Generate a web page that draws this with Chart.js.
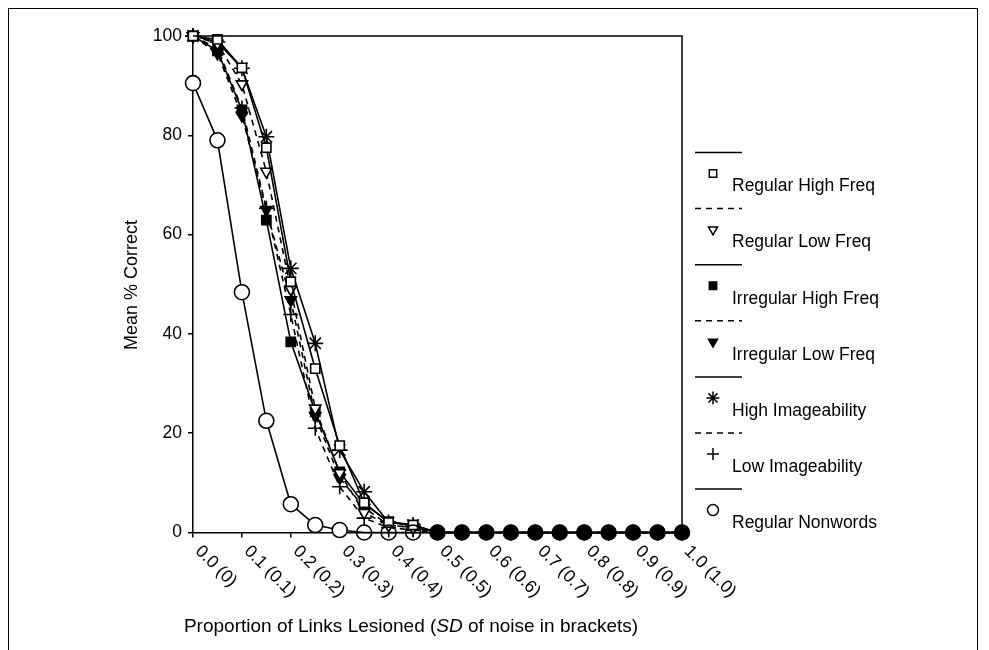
<!DOCTYPE html>
<html>
<head>
<meta charset="utf-8">
<script src="https://cdn.jsdelivr.net/npm/chart.js@4/dist/chart.umd.min.js"></script>
<style>
  body { margin: 0; background: #fff; }
  #wrap { position: relative; width: 989px; height: 650px; overflow: hidden; }
  #frame { position: absolute; left: 8px; top: 8px; width: 970px; height: 700px;
           border: 1.5px solid #000; box-sizing: border-box; }
  canvas { position: absolute; left: 0; top: 0; }
</style>
</head>
<body>
<div id="wrap">
  <div id="frame"></div>
  <canvas id="chart" width="989" height="650"></canvas>
</div>
<script>
// Data
const lesion = [0, 0.05, 0.1, 0.15, 0.2, 0.25, 0.3, 0.35, 0.4, 0.45, 0.5,
                0.55, 0.6, 0.65, 0.7, 0.75, 0.8, 0.85, 0.9, 0.95, 1.0];
const tickLabels = ['0.0 (0)', '0.1 (0.1)', '0.2 (0.2)', '0.3 (0.3)', '0.4 (0.4)', '0.5 (0.5)',
                    '0.6 (0.6)', '0.7 (0.7)', '0.8 (0.8)', '0.9 (0.9)', '1.0 (1.0)'];
const yTicks = [0, 20, 40, 60, 80, 100];

const regHighFreq = [100, 99.3, 93.6, 77.5, 50.5, 33.0, 17.5, 6.0, 2.0, 1.5, 0, 0, 0, 0, 0, 0, 0, 0, 0, 0, 0];
const regLowFreq  = [100, 98.5, 90.3, 72.7, 49.0, 25.0, 12.0, 4.0, 1.5, 1.0, 0, 0, 0, 0, 0, 0, 0, 0, 0, 0, 0];
const irrHighFreq = [100, 97.0, 85.1, 62.9, 38.4, 24.3, 12.2, 5.7, 2.2, 1.5, 0, 0, 0, 0, 0, 0, 0, 0, 0, 0, 0];
const irrLowFreq  = [100, 96.5, 84.0, 65.0, 46.8, 23.5, 11.0, 5.0, 1.5, 1.0, 0, 0, 0, 0, 0, 0, 0, 0, 0, 0, 0];
const highImage   = [100, 98.8, 93.5, 79.7, 53.2, 38.1, 16.6, 8.2, 2.0, 1.5, 0, 0, 0, 0, 0, 0, 0, 0, 0, 0, 0];
const lowImage    = [100, 97.5, 85.5, 65.3, 43.9, 21.0, 9.2, 2.9, 1.0, 0.5, 0, 0, 0, 0, 0, 0, 0, 0, 0, 0, 0];
const nonwords    = [90.5, 79.0, 48.4, 22.5, 5.7, 1.5, 0.5, 0, 0, 0, 0, 0, 0, 0, 0, 0, 0, 0, 0, 0, 0];

const seriesNames = ['Regular High Freq', 'Regular Low Freq', 'Irregular High Freq', 'Irregular Low Freq',
                     'High Imageability', 'Low Imageability', 'Regular Nonwords'];
const seriesValues = [regHighFreq, regLowFreq, irrHighFreq, irrLowFreq, highImage, lowImage, nonwords];

const FONT = "'Liberation Sans', Arial, sans-serif";
const DASH = [6, 5];

// marker look for each series
const markers = [
    { style: 'rect', fill: '#fff', radius: 6.5, rotation: 0, dashed: false },
    { style: 'triangle', fill: '#fff', radius: 6.5, rotation: 180, dashed: true },
    { style: 'rect', fill: '#000', radius: 6.5, rotation: 0, dashed: false },
    { style: 'triangle', fill: '#000', radius: 6.5, rotation: 180, dashed: true },
    { style: 'star', fill: '#000', radius: 8, rotation: 0, dashed: false },
    { style: 'cross', fill: '#000', radius: 7.5, rotation: 0, dashed: true },
    { style: 'circle', fill: '#fff', radius: 7.5, rotation: 0, dashed: false }
];

function allZero(i) {
    return seriesValues.every(v => v[i] === 0);
}

// nonword circles: white where alone, see-through where others sit inside, black where everything is at zero
function nonwordFill(ctx) {
    const i = ctx.dataIndex;
    if (allZero(i)) return '#000';
    return nonwords[i] > 0 ? '#fff' : 'rgba(255,255,255,0)';
}

const datasets = seriesValues.map((vals, k) => {
    const m = markers[k];
    return {
        label: seriesNames[k],
        data: lesion.map((x, i) => ({ x: x, y: vals[i] })),
        order: k === 6 ? -1 : k,
        borderColor: '#000',
        borderWidth: 1.6,
        borderDash: m.dashed ? DASH : [],
        pointStyle: m.style,
        pointRotation: m.rotation,
        pointRadius: m.radius,
        pointBorderWidth: 1.6,
        pointBorderColor: '#000',
        pointBackgroundColor: k === 6 ? nonwordFill : m.fill,
        tension: 0,
        clip: false
    };
});

// Frame, rotated tick labels, titles and legend
const decorPlugin = {
    id: 'decor',
    afterDraw(chart) {
        const ctx = chart.ctx;
        const area = chart.chartArea;
        const xs = chart.scales.x;
        ctx.save();
        ctx.strokeStyle = '#000';
        ctx.lineWidth = 1.5;
        ctx.beginPath();
        ctx.moveTo(area.left, area.top);
        ctx.lineTo(area.right, area.top);
        ctx.lineTo(area.right, area.bottom);
        ctx.stroke();

        // x tick labels, slanted downwards
        ctx.fillStyle = '#000';
        ctx.font = '17.5px ' + FONT;
        ctx.textAlign = 'left';
        ctx.textBaseline = 'middle';
        tickLabels.forEach((t, i) => {
            const px = xs.getPixelForValue(i / 10);
            ctx.save();
            ctx.translate(px + 5, area.bottom + 16);
            ctx.rotate(Math.PI / 4);
            ctx.fillText(t, 0, 0);
            ctx.restore();
        });

        // x title with italic SD
        const parts = [['Proportion of Links Lesioned (', 'normal'], ['SD', 'italic'], [' of noise in brackets)', 'normal']];
        let total = 0;
        parts.forEach(p => { ctx.font = p[1] + ' 19px ' + FONT; total += ctx.measureText(p[0]).width; });
        let tx = 411 - total / 2;
        parts.forEach(p => {
            ctx.font = p[1] + ' 19px ' + FONT;
            ctx.fillText(p[0], tx, 627);
            tx += ctx.measureText(p[0]).width;
        });

        // y title
        ctx.save();
        ctx.translate(132, 285);
        ctx.rotate(-Math.PI / 2);
        ctx.textAlign = 'center';
        ctx.font = '18px ' + FONT;
        ctx.fillText('Mean % Correct', 0, 0);
        ctx.restore();

        // legend
        seriesNames.forEach((name, k) => {
            const m = markers[k];
            const ly = 152.5 + 56.1 * k;
            ctx.strokeStyle = '#000';
            ctx.setLineDash(m.dashed ? DASH : []);
            ctx.lineWidth = 1.5;
            ctx.beginPath();
            ctx.moveTo(695, ly);
            ctx.lineTo(742, ly);
            ctx.stroke();
            ctx.setLineDash([]);
            ctx.fillStyle = m.fill;
            ctx.lineWidth = 1.5;
            Chart.helpers.drawPoint(ctx, {
                pointStyle: m.style, rotation: m.rotation,
                radius: m.style === 'circle' ? 5.5 : m.radius * 0.8, borderWidth: 1.5
            }, 713, ly + 21);
            ctx.fillStyle = '#000';
            ctx.font = '17.5px ' + FONT;
            ctx.textAlign = 'left';
            ctx.fillText(name, 732, ly + 34);
        });
        ctx.restore();
    }
};

new Chart(document.getElementById('chart'), {
    type: 'line',
    data: { datasets: datasets },
    options: {
        responsive: false,
        animation: false,
        devicePixelRatio: 1,
        layout: { padding: { left: 0, top: 36, right: 307, bottom: 0 } },
        plugins: { legend: { display: false }, tooltip: { enabled: false } },
        scales: {
            x: {
                type: 'linear', min: 0, max: 1,
                afterFit: s => { s.height = 117.5; },
                afterBuildTicks: s => { s.ticks = tickLabels.map((t, i) => ({ value: i / 10 })); },
                ticks: { display: false },
                grid: { drawOnChartArea: false, drawTicks: true, tickLength: 5, color: '#000', lineWidth: 1.5 },
                border: { color: '#000', width: 1.5 }
            },
            y: {
                min: 0, max: 100,
                afterFit: s => { s.width = 193; },
                afterBuildTicks: s => { s.ticks = yTicks.map(v => ({ value: v })); },
                ticks: { color: '#000', font: { family: FONT, size: 17.5 }, padding: 6 },
                grid: { drawOnChartArea: false, drawTicks: true, tickLength: 5, color: '#000', lineWidth: 1.5 },
                border: { color: '#000', width: 1.5 }
            }
        }
    },
    plugins: [decorPlugin]
});
</script>
</body>
</html>
